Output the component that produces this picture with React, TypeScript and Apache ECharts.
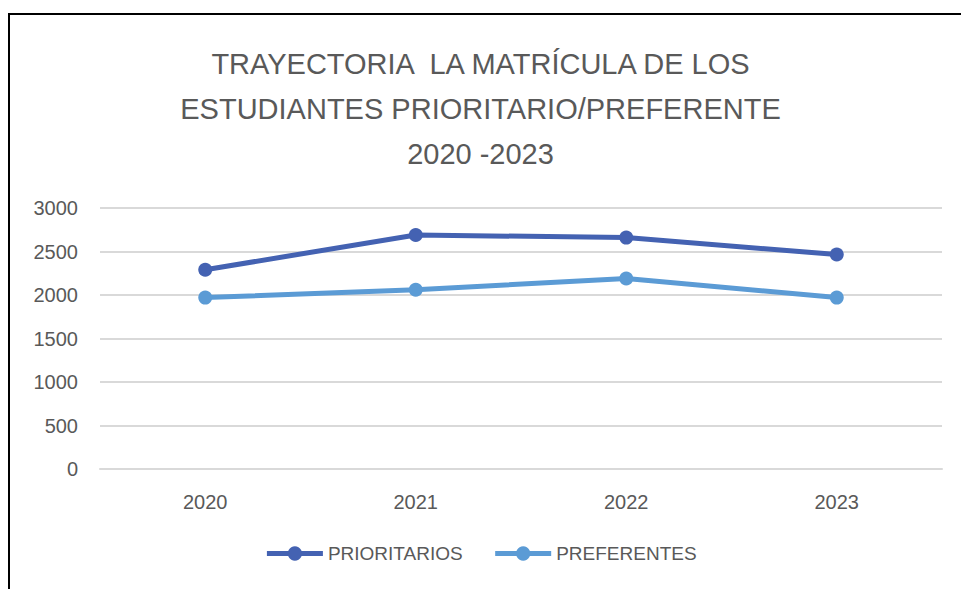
import React, { useEffect, useRef } from "react";
import * as echarts from "echarts";

const categories = ["2020", "2021", "2022", "2023"];
const prioritarios = [2290, 2690, 2660, 2465];
const preferentes = [1970, 2060, 2190, 1970];
const titleText = "TRAYECTORIA  LA MATRÍCULA DE LOS\nESTUDIANTES PRIORITARIO/PREFERENTE\n2020 -2023";

export default function App() {
  const ref = useRef<HTMLDivElement>(null);
  useEffect(() => {
    document.body.style.margin = "0";
    const chart = echarts.init(ref.current!, null, { renderer: "svg" });
    const font = "'Liberation Sans', Arial, sans-serif";
    chart.setOption({
      animation: false,
      backgroundColor: "#ffffff",
      title: {
        text: titleText,
        left: "center",
        top: 36,
        textStyle: {
          fontFamily: font,
          fontSize: 29,
          fontWeight: "normal",
          color: "#595959",
          lineHeight: 45,
        },
      },
      legend: {
        bottom: 21,
        left: "center",
        itemWidth: 56,
        itemHeight: 18,
        itemGap: 30,
        textStyle: { fontFamily: font, fontSize: 19, color: "#595959" },
        lineStyle: { width: 5 },
        data: ["PRIORITARIOS", "PREFERENTES"],
      },
      grid: { left: 100, right: 19, top: 208, bottom: 120 },
      xAxis: {
        type: "category",
        data: categories,
        boundaryGap: true,
        axisLine: { show: true, lineStyle: { color: "#d9d9d9", width: 2 } },
        axisTick: { show: false },
        axisLabel: { margin: 23, fontFamily: font, fontSize: 20, color: "#595959" },
      },
      yAxis: {
        type: "value",
        min: 0,
        max: 3000,
        interval: 500,
        axisLine: { show: false },
        axisTick: { show: false },
        axisLabel: {
          margin: 22,
          fontFamily: font,
          fontSize: 20,
          color: "#595959",
          formatter: (v: number) => String(v),
        },
        splitLine: { lineStyle: { color: "#d9d9d9", width: 2 } },
      },
      series: [
        {
          name: "PRIORITARIOS",
          type: "line",
          data: prioritarios,
          symbol: "circle",
          symbolSize: 14,
          lineStyle: { width: 5, color: "#4462B2" },
          itemStyle: { color: "#4462B2" },
        },
        {
          name: "PREFERENTES",
          type: "line",
          data: preferentes,
          symbol: "circle",
          symbolSize: 14,
          lineStyle: { width: 5, color: "#5B9BD5" },
          itemStyle: { color: "#5B9BD5" },
        },
      ],
      graphic: [
        { type: "line", shape: { x1: 8, y1: 14, x2: 961, y2: 14 }, style: { stroke: "#000", lineWidth: 2 } },
        { type: "line", shape: { x1: 9, y1: 14, x2: 9, y2: 589 }, style: { stroke: "#000", lineWidth: 2 } },
      ],
    });
    return () => chart.dispose();
  }, []);
  return <div ref={ref} style={{ width: 961, height: 589 }} />;
}
